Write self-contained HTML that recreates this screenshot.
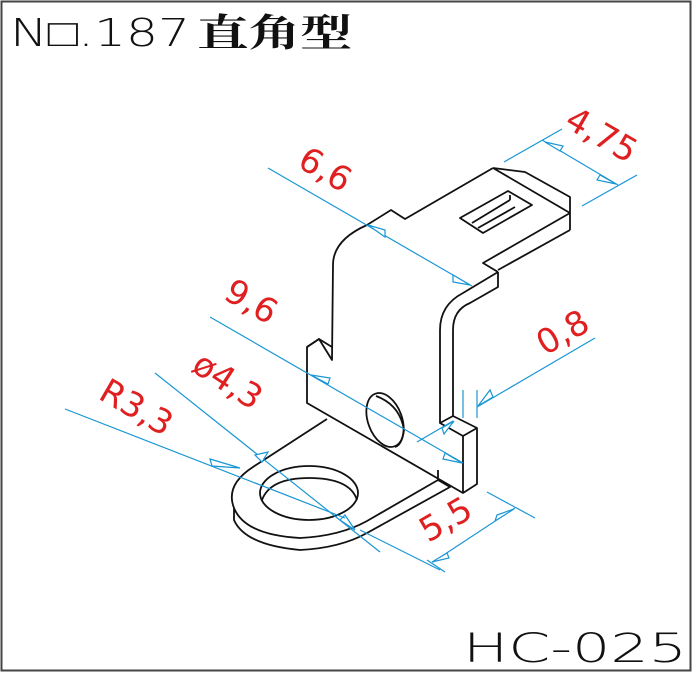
<!DOCTYPE html>
<html><head><meta charset="utf-8"><style>
html,body{margin:0;padding:0;background:#fff;}
svg{display:block;}
</style></head><body>
<svg width="697" height="674" viewBox="0 0 697 674" xmlns="http://www.w3.org/2000/svg">
<rect x="1.5" y="1.5" width="689" height="669" fill="#fff" stroke="#444" stroke-width="2"/>
<text x="10" y="46" font-family="DejaVu Sans ExtraLight, DejaVu Sans, sans-serif" font-size="38" font-weight="200" fill="#111" textLength="180" lengthAdjust="spacingAndGlyphs">N□.187</text>
<text x="197" y="46" font-family="Liberation Serif, Noto Serif CJK SC, serif" font-size="38" font-weight="bold" fill="#111" textLength="155" lengthAdjust="spacingAndGlyphs">直角型</text>
<text x="463" y="662" font-family="DejaVu Sans ExtraLight, DejaVu Sans, sans-serif" font-size="40" font-weight="200" fill="#111" textLength="224" lengthAdjust="spacingAndGlyphs">HC-025</text>

<g fill="none" stroke="#111" stroke-width="1.8" stroke-linejoin="round">
<path d="M493,168 L525,172 L570,197 L570,230 M493,168 L570,213 M570,213 L483,263 L498,272 M570,230 L498,270"/>
<path d="M493,168 L405,219 L391,210 L367,225 Q333,240 333,265 L332,360 L319,339 L307,347 L307,403 L463,493 L477,484 L477,428 L453,416 L440,423 L463,436 L463,493 M463,436 L477,428"/>
<path d="M460,218 L508,191 L532,205 L483,233 Z M472,223 L510,200 M510,200 L510,195 M478,228 L515,207"/>
<path d="M498,272 L498,287 L470,303 Q453,310 453,330 L453,416 M440,423 L440,330 Q440,305 463,293 L498,272"/>
<path d="M307,347 L319,339 L332,347"/>
<ellipse cx="385" cy="420" rx="17" ry="28" transform="rotate(-20 385 420)"/>
<path d="M376,396 Q400,405 404,430 Q402,445 395,447"/>
<path d="M327,419 L253,467 Q225,485 234,508 L234,520 Q245,545 300,550 Q340,548 367,533 L450,487 L438,480 M234,508 Q245,535 300,538 Q340,536 367,521 L438,480 L438,470"/>
<ellipse cx="309" cy="493" rx="49" ry="27"/>
<path d="M262,500 Q270,478 309,478 Q350,478 357,500"/>
</g>

<g stroke="#1a96d4" stroke-width="1.2" fill="#fff">
<line x1="268" y1="168" x2="472" y2="286"/>
<path d="M385,237 L368,225 L385,230 Z M453,275 L470,285 L453,282 Z"/>
<line x1="504" y1="162" x2="562" y2="129"/>
<line x1="582" y1="206" x2="637" y2="175"/>
<line x1="542" y1="140" x2="618" y2="185"/>
<path d="M560,151 L545,142 L563,146 Z M600,175 L616,184 L597,180 Z"/>
<line x1="210" y1="317" x2="463" y2="463"/>
<path d="M328,384 L311,375 L330,378 Z M445,453 L462,463 L443,459 Z"/>
<line x1="595" y1="338" x2="477" y2="407"/>
<line x1="417" y1="442" x2="453" y2="421"/>
<line x1="463" y1="390" x2="463" y2="418"/>
<line x1="477" y1="390" x2="477" y2="418"/>
<path d="M493,397 L478,406 L490,390 Z M442,428 L454,421 L444,434 Z"/>
<line x1="155" y1="373" x2="380" y2="552"/>
<path d="M255,455 L268,452 L262,462 Z M340,520 L355,530 L345,515 Z"/>
<line x1="65" y1="409" x2="345" y2="518"/>
<path d="M210,459 L240,468 L212,466 Z"/>
<line x1="487" y1="492" x2="535" y2="518"/>
<line x1="427" y1="560" x2="445" y2="572"/>
<line x1="360" y1="530" x2="440" y2="570"/>
<line x1="433" y1="562" x2="515" y2="508"/>
<path d="M495,521 L514,509 L497,515 Z M447,553 L432,562 L449,558 Z"/>
</g>

<g fill="#e02020" font-family="DejaVu Sans, Liberation Sans, sans-serif" font-size="34">
<text transform="translate(296,166) rotate(30)">6,6</text>
<text transform="translate(563,126) rotate(30)">4,75</text>
<text transform="translate(222,298) rotate(30)">9,6</text>
<text transform="translate(545,356) rotate(-30)">0,8</text>
<text transform="translate(190,370) rotate(33)">ø4,3</text>
<text transform="translate(97,398) rotate(30)">R3,3</text>
<text transform="translate(428,543) rotate(-30)">5,5</text>
</g>
</svg>
</body></html>
